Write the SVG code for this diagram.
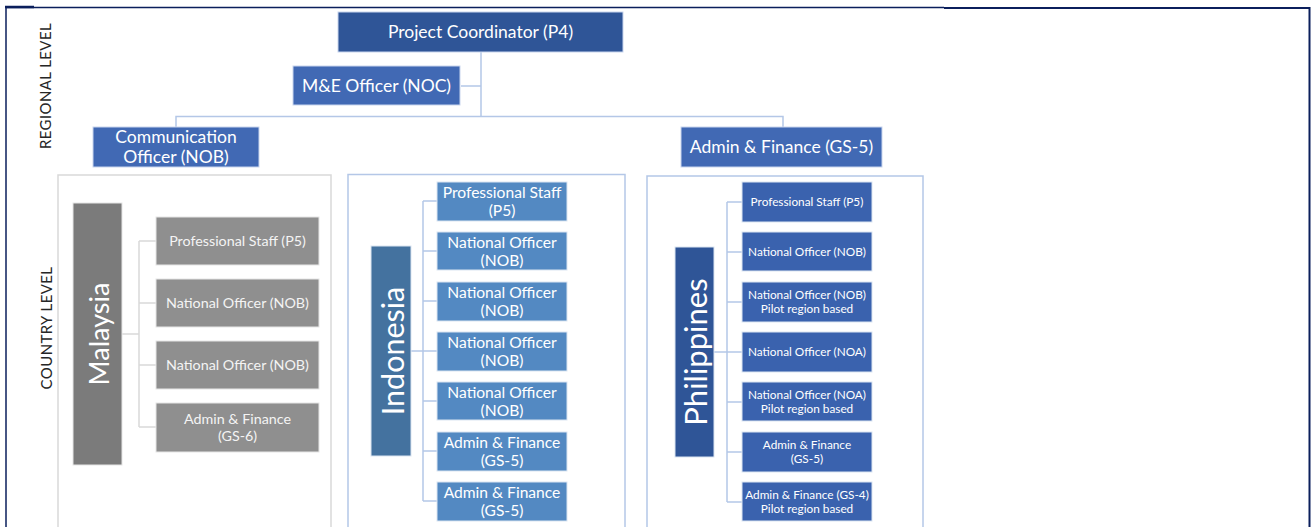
<svg xmlns="http://www.w3.org/2000/svg" width="1314" height="527" viewBox="0 0 1314 527">
  <style>
    text { font-family: Lato, "Open Sans", "Liberation Sans", sans-serif; fill: #ffffff; text-anchor: middle; dominant-baseline: central; }
    .lvl { fill: #262626; font-size: 15px; letter-spacing: 0.4px; }
    .reg { fill: #4169b4; stroke: #c9d6ee; stroke-width: 1; }
    .top { fill: #2f5597; stroke: #c9d6ee; stroke-width: 1; }
    .rt { font-size: 17.5px; }
    .panel-gray { fill: #ffffff; stroke: #d9d9d9; stroke-width: 1.5; }
    .panel-blue { fill: #ffffff; stroke: #b4c7e7; stroke-width: 1.5; }
    .my-bar { fill: #7b7b7b; stroke: #e6e6e6; stroke-width: 1; }
    .my-box { fill: #8f8f8f; stroke: #e6e6e6; stroke-width: 1; }
    .id-bar { fill: #44729f; stroke: #dbe5f1; stroke-width: 1; }
    .id-box { fill: #5389c2; stroke: #dbe5f1; stroke-width: 1; }
    .ph-bar { fill: #2f5597; stroke: #dbe5f1; stroke-width: 1; }
    .ph-box { fill: #3a62ae; stroke: #dbe5f1; stroke-width: 1; }
    .my-name { font-size: 27px; }
    .id-name { font-size: 30.5px; }
    .ph-name { font-size: 31px; }
    .my-t { font-size: 14.3px; fill: #f4f4f4; }
    .id-t { font-size: 15.6px; }
    .ph-t { font-size: 11.8px; }
    .conn { fill: none; stroke: #b4c7e7; stroke-width: 1.5; }
    .conn-gray { fill: none; stroke: #d9d9d9; stroke-width: 1.5; }
  </style>

  <rect width="1314" height="527" fill="#ffffff"/>

  <!-- page frame -->
  <path d="M6 527 V7.5 H944" fill="none" stroke="#0b1f5c" stroke-width="1.5"/>
  <path d="M944 8 H1309.5 V527" fill="none" stroke="#0b1f5c" stroke-width="2"/>
  <path d="M5 7 H34" fill="none" stroke="#0b1f5c" stroke-width="2.5"/>

  <!-- level labels -->
  <text class="lvl" transform="translate(45 86) rotate(-90)">REGIONAL LEVEL</text>
  <text class="lvl" transform="translate(46 328) rotate(-90)">COUNTRY LEVEL</text>

  <!-- country panels -->
  <rect id="panel-malaysia" class="panel-gray" x="58" y="175" width="273" height="360"/>
  <rect id="panel-indonesia" class="panel-blue" x="348" y="174.5" width="277" height="360"/>
  <rect id="panel-philippines" class="panel-blue" x="647" y="176" width="276" height="360"/>

  <!-- connectors -->
  <g id="connectors">
    <path class="conn" d="M481 52 V116.5 M461 86 H481 M176 127 V116.5 H783 V127"/>
    <path class="conn-gray" d="M122 334 H139 M139 241 V427 M139 241 H156 M139 303 H156 M139 365 H156 M139 427 H156"/>
    <path class="conn" d="M411 351 H423 M423 201 V501 M423 201 H437 M423 251 H437 M423 301 H437 M423 351 H437 M423 401 H437 M423 451 H437 M423 501 H437"/>
    <path class="conn" d="M714 352 H727 M727 202 V502 M727 202 H742 M727 252 H742 M727 302 H742 M727 352 H742 M727 402 H742 M727 452 H742 M727 502 H742"/>
  </g>

  <!-- regional level -->
  <g id="project-coordinator">
    <rect class="top" x="338" y="12" width="285" height="40"/>
    <text class="rt" x="480.5" y="31">Project Coordinator (P4)</text>
  </g>
  <g id="me-officer">
    <rect class="reg" x="293" y="66" width="167" height="39"/>
    <text class="rt" x="376.5" y="85">M&amp;E Officer (NOC)</text>
  </g>
  <g id="communication-officer">
    <rect class="reg" x="93" y="127" width="166" height="40"/>
    <text class="rt" x="176" y="136.5">Communication</text>
    <text class="rt" x="176" y="156.5">Officer (NOB)</text>
  </g>
  <g id="regional-admin-finance">
    <rect class="reg" x="681" y="127" width="201" height="40"/>
    <text class="rt" x="781.5" y="146">Admin &amp; Finance (GS-5)</text>
  </g>

  <!-- Malaysia -->
  <g id="malaysia">
    <rect class="my-bar" x="73" y="203" width="49" height="262"/>
    <text class="my-name" transform="translate(98 334) rotate(-90)">Malaysia</text>
  </g>
  <g id="my-professional-staff">
    <rect class="my-box" x="156" y="217" width="163" height="48"/>
    <text class="my-t" x="237.5" y="240.5">Professional Staff (P5)</text>
  </g>
  <g id="my-national-officer-1">
    <rect class="my-box" x="156" y="279" width="163" height="48"/>
    <text class="my-t" x="237.5" y="302.5">National Officer (NOB)</text>
  </g>
  <g id="my-national-officer-2">
    <rect class="my-box" x="156" y="341" width="163" height="48"/>
    <text class="my-t" x="237.5" y="364.5">National Officer (NOB)</text>
  </g>
  <g id="my-admin-finance">
    <rect class="my-box" x="156" y="403" width="163" height="49"/>
    <text class="my-t" x="237.5" y="418">Admin &amp; Finance</text>
    <text class="my-t" x="237.5" y="435">(GS-6)</text>
  </g>

  <!-- Indonesia -->
  <g id="indonesia">
    <rect class="id-bar" x="371" y="246" width="40" height="210"/>
    <text class="id-name" transform="translate(391.5 351) rotate(-90)">Indonesia</text>
  </g>
  <g id="id-professional-staff">
    <rect class="id-box" x="437" y="182" width="130" height="39"/>
    <text class="id-t" x="502" y="191.5">Professional Staff</text>
    <text class="id-t" x="502" y="209.5">(P5)</text>
  </g>
  <g id="id-national-officer-1">
    <rect class="id-box" x="437" y="232" width="130" height="38"/>
    <text class="id-t" x="502" y="241.5">National Officer</text>
    <text class="id-t" x="502" y="259.5">(NOB)</text>
  </g>
  <g id="id-national-officer-2">
    <rect class="id-box" x="437" y="282" width="130" height="39"/>
    <text class="id-t" x="502" y="291.5">National Officer</text>
    <text class="id-t" x="502" y="309.5">(NOB)</text>
  </g>
  <g id="id-national-officer-3">
    <rect class="id-box" x="437" y="332" width="130" height="39"/>
    <text class="id-t" x="502" y="341.5">National Officer</text>
    <text class="id-t" x="502" y="359.5">(NOB)</text>
  </g>
  <g id="id-national-officer-4">
    <rect class="id-box" x="437" y="382" width="130" height="38"/>
    <text class="id-t" x="502" y="391.5">National Officer</text>
    <text class="id-t" x="502" y="409.5">(NOB)</text>
  </g>
  <g id="id-admin-finance-1">
    <rect class="id-box" x="437" y="432" width="130" height="39"/>
    <text class="id-t" x="502" y="441.5">Admin &amp; Finance</text>
    <text class="id-t" x="502" y="459.5">(GS-5)</text>
  </g>
  <g id="id-admin-finance-2">
    <rect class="id-box" x="437" y="482" width="130" height="39"/>
    <text class="id-t" x="502" y="491.5">Admin &amp; Finance</text>
    <text class="id-t" x="502" y="509.5">(GS-5)</text>
  </g>

  <!-- Philippines -->
  <g id="philippines">
    <rect class="ph-bar" x="675" y="247" width="39" height="210"/>
    <text class="ph-name" transform="translate(695 352) rotate(-90)">Philippines</text>
  </g>
  <g id="ph-professional-staff">
    <rect class="ph-box" x="742" y="182" width="130" height="40"/>
    <text class="ph-t" x="807" y="201.5">Professional Staff (P5)</text>
  </g>
  <g id="ph-national-officer-nob">
    <rect class="ph-box" x="742" y="232" width="130" height="39"/>
    <text class="ph-t" x="807" y="251">National Officer (NOB)</text>
  </g>
  <g id="ph-national-officer-nob-pilot">
    <rect class="ph-box" x="742" y="282" width="130" height="40"/>
    <text class="ph-t" x="807" y="294.5">National Officer (NOB)</text>
    <text class="ph-t" x="807" y="308">Pilot region based</text>
  </g>
  <g id="ph-national-officer-noa">
    <rect class="ph-box" x="742" y="332" width="130" height="40"/>
    <text class="ph-t" x="807" y="351.5">National Officer (NOA)</text>
  </g>
  <g id="ph-national-officer-noa-pilot">
    <rect class="ph-box" x="742" y="382" width="130" height="39"/>
    <text class="ph-t" x="807" y="394.5">National Officer (NOA)</text>
    <text class="ph-t" x="807" y="408">Pilot region based</text>
  </g>
  <g id="ph-admin-finance-gs5">
    <rect class="ph-box" x="742" y="432" width="130" height="40"/>
    <text class="ph-t" x="807" y="444.5">Admin &amp; Finance</text>
    <text class="ph-t" x="807" y="458.5">(GS-5)</text>
  </g>
  <g id="ph-admin-finance-gs4">
    <rect class="ph-box" x="742" y="482" width="130" height="39"/>
    <text class="ph-t" x="807" y="494.5">Admin &amp; Finance (GS-4)</text>
    <text class="ph-t" x="807" y="508">Pilot region based</text>
  </g>
</svg>
